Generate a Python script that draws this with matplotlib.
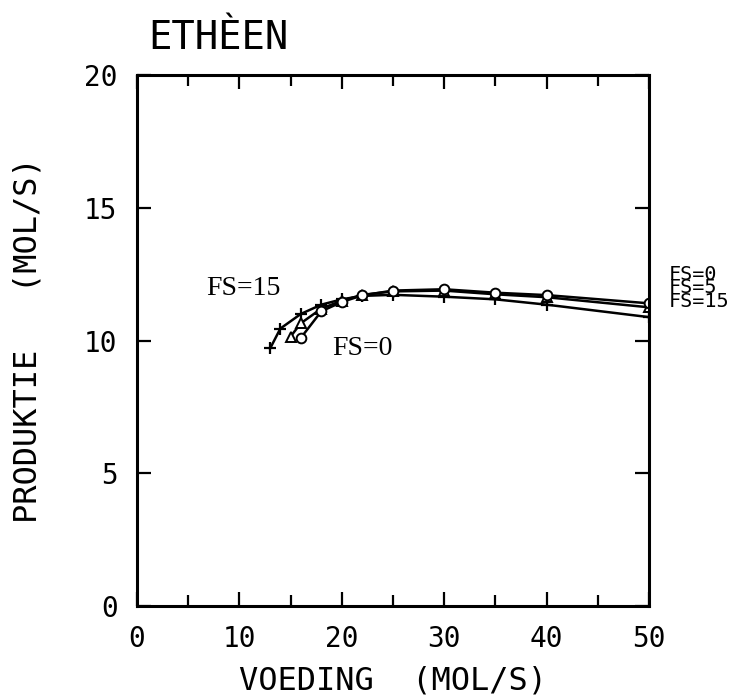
#!/usr/bin/env python3
"""Etheen: produktie versus voeding for FS = 0, 5, 15."""

import matplotlib
matplotlib.use('Agg')
import matplotlib.pyplot as plt
from matplotlib.ticker import MultipleLocator

# feed (mol/s) and production (mol/s) per FS setting
FS0_X = [16, 18, 20, 22, 25, 30, 35, 40, 50]
FS0_Y = [10.1, 11.1, 11.45, 11.7, 11.88, 11.93, 11.8, 11.71, 11.4]

FS5_X = [15, 16, 18, 20, 22, 25, 30, 35, 40, 50]
FS5_Y = [10.15, 10.65, 11.2, 11.5, 11.72, 11.85, 11.88, 11.74, 11.63, 11.25]

FS15_X = [13, 14, 16, 18, 20, 22, 25, 30, 35, 40, 50]
FS15_Y = [9.7, 10.45, 11.0, 11.35, 11.55, 11.68, 11.72, 11.65, 11.55, 11.35, 10.88]

X_TICKS = [0, 10, 20, 30, 40, 50]
Y_TICKS = [0, 5, 10, 15, 20]

W_PX, H_PX, DPI = 745, 696, 100
MONO = 'DejaVu Sans Mono'
SERIF = 'Liberation Serif'
LW = 1.8

fig = plt.figure(figsize=(W_PX / DPI, H_PX / DPI), dpi=DPI)
L, R, B, T = 137, 649, 606, 75
ax = fig.add_axes([L / W_PX, 1 - B / H_PX, (R - L) / W_PX, (B - T) / H_PX])

ax.plot(FS15_X, FS15_Y, color='black', lw=LW, marker='+', ms=9, mew=1.6)
ax.plot(FS5_X, FS5_Y, color='black', lw=LW, marker='^', ms=7, mfc='white', mew=1.4)
ax.plot(FS0_X, FS0_Y, color='black', lw=LW, marker='o', ms=7, mfc='white', mew=1.4)

ax.set_xlim(0, 50)
ax.set_ylim(0, 20)
ax.set_xticks(X_TICKS)
ax.set_yticks(Y_TICKS)
ax.xaxis.set_minor_locator(MultipleLocator(5))
ax.set_xticklabels([str(v) for v in X_TICKS], fontfamily=MONO, fontsize=20)
ax.set_yticklabels([str(v) for v in Y_TICKS], fontfamily=MONO, fontsize=20)

ax.tick_params(axis='both', which='both', direction='in', top=True, right=True,
               width=1.6, color='black')
ax.tick_params(axis='both', which='major', length=10)
ax.tick_params(axis='x', which='minor', length=8)
ax.tick_params(axis='x', which='major', pad=14)
ax.tick_params(axis='y', which='major', pad=14)
for sp in ax.spines.values():
    sp.set_linewidth(2.2)

ax.set_xlabel('VOEDING  (MOL/S)', fontfamily=MONO, fontsize=23)
ax.set_ylabel('PRODUKTIE   (MOL/S)', fontfamily=MONO, fontsize=23)
ax.xaxis.label.set_va('baseline')
ax.xaxis.set_label_coords(0.5, (B - 690) / (B - T))
ax.yaxis.set_label_coords((44 - L) / (R - L), 0.5)

fig.text(148 / W_PX, 1 - 49 / H_PX, 'ETHÈEN', fontfamily=MONO, fontsize=28,
         va='baseline', ha='left')

# curve labels inside the frame
ax.text(6.8, 11.7, 'FS=15', fontfamily=SERIF, fontsize=20, va='baseline')
ax.text(19.1, 9.46, 'FS=0', fontfamily=SERIF, fontsize=20, va='baseline')

# stacked labels beside the right edge
for y, s in [(12.28, 'FS=0'), (11.79, 'FS=5'), (11.26, 'FS=15')]:
    ax.text(51.9, y, s, fontfamily=MONO, fontsize=14.5, va='baseline',
            clip_on=False)

fig.savefig('out.png', dpi=DPI, facecolor='white')
plt.close()
